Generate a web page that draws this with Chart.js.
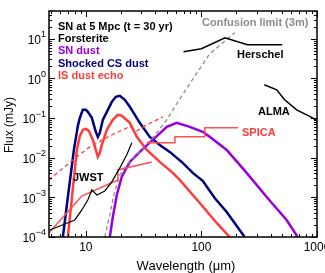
<!DOCTYPE html>
<html>
<head>
<meta charset="utf-8">
<script src="https://cdn.jsdelivr.net/npm/chart.js@4/dist/chart.umd.min.js"></script>
<style>
  html, body { margin: 0; padding: 0; background: #fff; }
  #wrap { width: 325px; height: 273px; }
</style>
</head>
<body>
<div id="wrap"><canvas id="sed" width="325" height="273"></canvas></div>
<script>
// wavelength in micron, flux in mJy
const csLam = [6.33, 6.99, 7.88, 8.53, 8.87, 9.42, 10, 10.4, 11.27, 12.2, 12.7, 13.21, 14.03, 15.19, 16.78, 18.17, 19.67, 21.73, 24.01, 29.29, 35.74, 43.61, 53.21, 68.93, 84.14, 102.6, 130.3, 165.5, 236.7];
const csFlux = [1e-4, 1.02e-3, 0.0157, 0.0635, 0.101, 0.161, 0.161, 0.143, 0.101, 0.0449, 0.0335, 0.0423, 0.0901, 0.143, 0.256, 0.343, 0.364, 0.288, 0.192, 0.0756, 0.0335, 0.021, 0.014, 7.4e-3, 4.13e-3, 2.6e-3, 9.66e-4, 4.28e-4, 1e-4];

const isLam = [6.99, 8.36, 8.87, 9.42, 10, 10.62, 11.49, 12.2, 12.7, 13.21, 13.75, 15.19, 17.12, 18.91, 20.47, 24.01, 27.6, 33.67, 43.61, 56.48, 64.94, 96.7, 135.6, 175.6];
const isFlux = [1e-4, 0.0157, 0.0355, 0.0504, 0.0534, 0.0475, 0.0281, 0.0157, 0.0105, 0.0132, 0.021, 0.0504, 0.0901, 0.12, 0.114, 0.0756, 0.0335, 0.0157, 7.83e-3, 4.13e-3, 2.75e-3, 7.22e-4, 2.26e-4, 1e-4];

const echoLam = [4.79, 7.72, 10.83, 16.12, 21.73, 24.01, 27.6, 32.34, 46.3];
const echoFlux = [2.75e-3, 8.8e-3, 0.0187, 0.0355, 0.0534, 0.06, 0.0475, 0.0635, 0.107];

const snLam = [16.12, 17.12, 18.53, 20.47, 24.01, 29.29, 37.94, 50.13, 61.17, 79.26, 102.6, 118, 165.5, 246.3, 366.7, 546, 679.8];
const snFlux = [1e-4, 3.2e-4, 1.15e-3, 3.3e-3, 7.83e-3, 0.014, 0.0281, 0.06, 0.0756, 0.06, 0.0449, 0.0335, 0.0157, 4.13e-3, 1.02e-3, 2.69e-4, 1e-4];

const confLam = [14.59, 16.12, 17.46, 19.67, 24.01, 31.1, 41.09, 50.13, 61.17, 79.26, 118, 194];
const confFlux = [1e-4, 3.6e-4, 1.15e-3, 3.68e-3, 8.3e-3, 0.0167, 0.0423, 0.0901, 0.229, 0.731, 4.18, 14.2];

const jwstLam = [4.88, 6.58, 8.03, 9.23, 10.4, 11.27, 12.45, 14.59, 16.78, 19.67, 22.62, 24.98];
const jwstFlux = [1.5e-4, 2.13e-4, 2.69e-4, 4.81e-4, 8.6e-4, 1.54e-3, 1.15e-3, 1.45e-3, 2.45e-3, 5.52e-3, 0.0118, 0.0237];

const mcsLam = [4.79, 9.23, 18.91, 18.91, 37.19];
const mcsFlux = [1.26e-4, 1.08e-3, 2.75e-3, 4.92e-3, 7.83e-3];

const safariLam = [33.5, 59, 59, 107, 107, 207];
const safariFlux = [0.0237, 0.0237, 0.0335, 0.0335, 0.0566, 0.0566];

const herschelLam = [70, 100, 160, 250, 350, 500];
const herschelFlux = [4.7, 5.58, 10.6, 7.05, 7.05, 7.05];

const almaLam = [350, 448, 525, 667, 916, 1000];
const almaFlux = [0.689, 0.515, 0.288, 0.161, 0.101, 0.085];

const xTicks = [10, 100, 1000];
const yExps = [-4, -3, -2, -1, 0, 1];

const legendLines = [
  ['SN at 5 Mpc (t = 30 yr)', '#000'],
  ['Forsterite', '#000'],
  ['SN dust', '#9900dd'],
  ['Shocked CS dust', '#000080'],
  ['IS dust echo', '#ff3c3c']
];

function pts(lam, flux) {
  return lam.map((l, i) => ({ x: l, y: flux[i] }));
}

function line(lam, flux, color, width, dash) {
  return {
    data: pts(lam, flux),
    showLine: true,
    borderColor: color,
    borderWidth: width,
    borderDash: dash || [],
    pointRadius: 0,
    tension: 0,
    fill: false
  };
}

const FONT = '"Liberation Sans", Arial, sans-serif';

const frame = {
  id: 'frame',
  afterDraw(chart) {
    const ctx = chart.ctx;
    const a = chart.chartArea;
    const xs = chart.scales.x, ys = chart.scales.y;
    ctx.save();
    ctx.strokeStyle = '#000';
    ctx.lineWidth = 1.5;
    ctx.strokeRect(a.left, a.top, a.right - a.left, a.bottom - a.top);
    ctx.lineWidth = 1;
    ctx.beginPath();
    // x ticks
    for (let d = 1; d <= 1000; d *= 10) {
      for (let m = 1; m < 10; m++) {
        const v = d * m;
        if (v < xs.min || v > xs.max) continue;
        const px = Math.round(xs.getPixelForValue(v)) + 0.5;
        const len = m === 1 ? 6 : 3;
        ctx.moveTo(px, a.bottom); ctx.lineTo(px, a.bottom - len);
        ctx.moveTo(px, a.top); ctx.lineTo(px, a.top + len);
      }
    }
    // y ticks
    for (let e = -4; e <= 1; e++) {
      for (let m = 1; m < 10; m++) {
        const v = m * Math.pow(10, e);
        if (v < ys.min || v > ys.max) continue;
        const py = Math.round(ys.getPixelForValue(v)) + 0.5;
        const len = m === 1 ? 6 : 3;
        ctx.moveTo(a.left, py); ctx.lineTo(a.left + len, py);
        ctx.moveTo(a.right, py); ctx.lineTo(a.right - len, py);
      }
    }
    ctx.stroke();

    ctx.fillStyle = '#000';
    // x tick labels
    ctx.font = '12px ' + FONT;
    ctx.textAlign = 'center';
    ctx.textBaseline = 'middle';
    xTicks.forEach(v => ctx.fillText(String(v), xs.getPixelForValue(v), 248));
    // y tick labels with exponents
    yExps.forEach(e => {
      const py = ys.getPixelForValue(Math.pow(10, e));
      ctx.font = '9px ' + FONT;
      const sup = String(e).replace('-', '\u2212');
      const sw = ctx.measureText(sup).width;
      ctx.textAlign = 'left';
      ctx.fillText(sup, 46 - sw, py - 4);
      ctx.font = '12px ' + FONT;
      ctx.textAlign = 'right';
      ctx.fillText('10', 46 - sw, py + 2);
    });
    // axis titles
    ctx.textAlign = 'center';
    ctx.font = '13px ' + FONT;
    ctx.fillText('Wavelength (\u03bcm)', 186, 266);
    ctx.font = '12px ' + FONT;
    ctx.save();
    ctx.translate(10, 125);
    ctx.rotate(-Math.PI / 2);
    ctx.fillText('Flux (mJy)', 0, 0);
    ctx.restore();

    // annotations
    ctx.font = 'bold 11px ' + FONT;
    ctx.textAlign = 'left';
    legendLines.forEach((l, i) => {
      ctx.fillStyle = l[1];
      ctx.fillText(l[0], 58, 27 + i * 12.2);
    });
    ctx.fillStyle = '#8c8c8c';
    ctx.fillText('Confusion limit (3m)', 202, 23);
    ctx.fillStyle = '#000';
    ctx.fillText('Herschel', 237, 55);
    ctx.fillText('ALMA', 258, 112);
    ctx.fillText('JWST', 73, 178);
    ctx.fillStyle = '#ff3c3c';
    ctx.fillText('SPICA', 242, 133);
    ctx.restore();
  }
};

new Chart(document.getElementById('sed'), {
  type: 'scatter',
  data: {
    datasets: [
      line(jwstLam, jwstFlux, '#000', 1.2),
      line(herschelLam, herschelFlux, '#000', 1.5),
      line(almaLam, almaFlux, '#000', 1.5),
      line(mcsLam, mcsFlux, '#ff5050', 1.5),
      line(safariLam, safariFlux, '#ff5050', 1.5),
      line(confLam, confFlux, '#8c8c8c', 1.3, [4, 3]),
      line(echoLam, echoFlux, '#ff3c3c', 1.3, [4, 3]),
      line(snLam, snFlux, '#9900dd', 2.5),
      line(isLam, isFlux, '#ff3c3c', 2.5),
      line(csLam, csFlux, '#000080', 2.5)
    ]
  },
  options: {
    responsive: false,
    animation: false,
    layout: { padding: { left: 49, right: 8, top: 11, bottom: 36 } },
    plugins: { legend: { display: false }, tooltip: { enabled: false } },
    scales: {
      x: { type: 'logarithmic', min: 4.8, max: 1000, display: false },
      y: { type: 'logarithmic', min: 1e-4, max: 50, display: false }
    }
  },
  plugins: [frame]
});
</script>
</body>
</html>
